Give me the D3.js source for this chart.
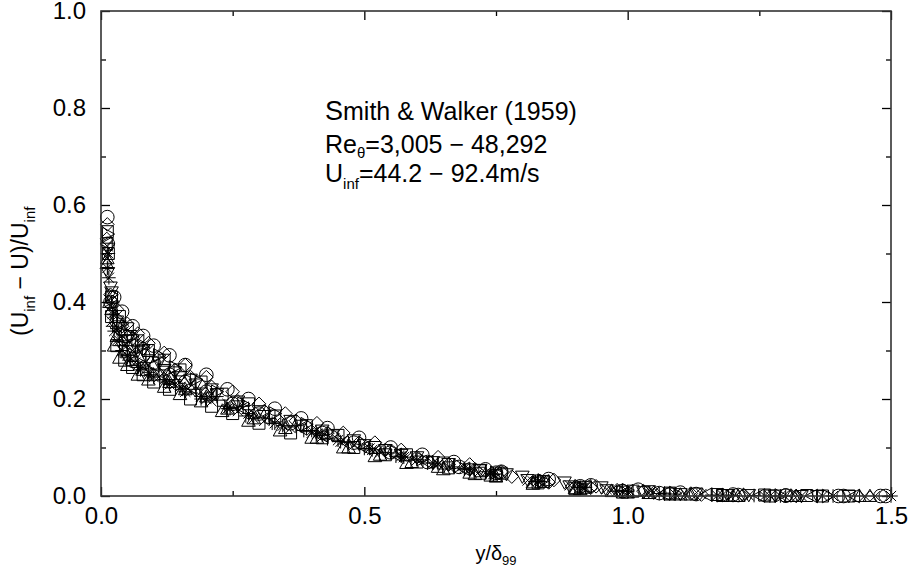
<!DOCTYPE html>
<html>
<head>
<meta charset="utf-8">
<script src="https://cdn.jsdelivr.net/npm/d3@7"></script>
<style>
  body { margin: 0; background: #fff; }
  text { font-family: "Liberation Sans", Arial, sans-serif; fill: #000; }
</style>
</head>
<body>
<div id="chart"></div>
<script>
// data: y/delta99 vs (Uinf - U)/Uinf, one array per profile
var profCircle = [[0.012,0.575],[0.018,0.40],[0.03,0.36],[0.045,0.33],[0.06,0.31],[0.08,0.29],[0.10,0.275],[0.13,0.25],[0.16,0.235],[0.20,0.215],[0.25,0.19],[0.30,0.17],[0.36,0.15],[0.42,0.13],[0.48,0.11],[0.55,0.09],[0.62,0.07],[0.68,0.06],[0.75,0.048],[0.83,0.03],[0.91,0.02],[0.99,0.01],[1.06,0.006],[1.13,0.004],[1.21,0.002],[1.30,0.001],[1.40,0.0],[1.48,0.0]];
var profCircle2 = [[0.013,0.52],[0.025,0.41],[0.04,0.38],[0.06,0.35],[0.08,0.33],[0.10,0.31],[0.13,0.29],[0.16,0.27],[0.20,0.25],[0.24,0.22],[0.28,0.20],[0.33,0.18],[0.38,0.16],[0.43,0.14],[0.49,0.12],[0.55,0.10],[0.61,0.085],[0.67,0.07],[0.73,0.055],[0.76,0.05],[0.85,0.035],[0.93,0.022],[1.02,0.013],[1.10,0.007],[1.20,0.003],[1.30,0.001],[1.41,0.0],[1.49,0.0]];
var profSquare = [[0.012,0.545],[0.02,0.41],[0.035,0.37],[0.05,0.345],[0.07,0.32],[0.09,0.30],[0.12,0.28],[0.15,0.26],[0.19,0.235],[0.23,0.21],[0.28,0.19],[0.33,0.165],[0.39,0.145],[0.45,0.125],[0.52,0.10],[0.58,0.085],[0.65,0.068],[0.72,0.052],[0.76,0.047],[0.84,0.03],[0.92,0.018],[1.01,0.01],[1.08,0.006],[1.17,0.003],[1.26,0.002],[1.34,0.001],[1.42,0.0]];
var profSquare2 = [[0.014,0.50],[0.02,0.37],[0.03,0.31],[0.045,0.28],[0.06,0.265],[0.08,0.25],[0.10,0.235],[0.13,0.22],[0.17,0.20],[0.21,0.185],[0.25,0.17],[0.30,0.15],[0.36,0.13],[0.42,0.12],[0.48,0.10],[0.54,0.085],[0.60,0.07],[0.66,0.058],[0.72,0.047],[0.75,0.042],[0.83,0.027],[0.90,0.015],[0.99,0.008],[1.08,0.004],[1.18,0.001],[1.27,0.0],[1.37,0.0]];
var profDiamond = [[0.011,0.53],[0.022,0.40],[0.04,0.35],[0.06,0.325],[0.08,0.305],[0.11,0.285],[0.14,0.26],[0.17,0.245],[0.21,0.225],[0.26,0.195],[0.31,0.175],[0.37,0.155],[0.43,0.13],[0.49,0.11],[0.54,0.095],[0.60,0.08],[0.66,0.065],[0.71,0.055],[0.78,0.04],[0.85,0.028],[0.93,0.017],[0.98,0.012],[1.05,0.007],[1.14,0.003],[1.22,0.002],[1.31,0.001]];
var profDiamond2 = [[0.012,0.56],[0.018,0.415],[0.03,0.385],[0.05,0.355],[0.07,0.335],[0.09,0.315],[0.12,0.295],[0.16,0.27],[0.20,0.245],[0.25,0.215],[0.30,0.19],[0.35,0.17],[0.41,0.15],[0.46,0.13],[0.52,0.11],[0.57,0.095],[0.64,0.08],[0.70,0.065],[0.76,0.05],[0.86,0.033],[0.94,0.02],[1.03,0.01],[1.12,0.005],[1.22,0.002],[1.32,0.0]];
var profTriUp = [[0.012,0.49],[0.02,0.385],[0.03,0.33],[0.045,0.30],[0.06,0.28],[0.08,0.26],[0.10,0.25],[0.13,0.235],[0.16,0.22],[0.20,0.205],[0.24,0.18],[0.29,0.16],[0.35,0.14],[0.41,0.12],[0.47,0.10],[0.53,0.085],[0.59,0.07],[0.64,0.06],[0.70,0.048],[0.74,0.042],[0.82,0.028],[0.90,0.016],[0.97,0.01],[1.04,0.006],[1.12,0.003],[1.20,0.0],[1.32,0.0],[1.44,0.0]];
var profTriUp2 = [[0.011,0.48],[0.016,0.40],[0.025,0.31],[0.035,0.285],[0.05,0.27],[0.07,0.25],[0.09,0.24],[0.12,0.225],[0.15,0.21],[0.19,0.195],[0.23,0.175],[0.28,0.155],[0.34,0.135],[0.40,0.12],[0.46,0.10],[0.52,0.082],[0.58,0.068],[0.65,0.055],[0.71,0.045],[0.75,0.04],[0.82,0.025],[0.91,0.014],[1.00,0.007],[1.10,0.003],[1.21,0.0],[1.31,0.0],[1.46,0.0]];
var profTriDown = [[0.013,0.51],[0.018,0.43],[0.03,0.36],[0.05,0.32],[0.07,0.30],[0.09,0.28],[0.12,0.26],[0.15,0.245],[0.18,0.23],[0.22,0.21],[0.26,0.185],[0.31,0.165],[0.38,0.145],[0.44,0.125],[0.50,0.105],[0.57,0.085],[0.63,0.07],[0.70,0.055],[0.77,0.045],[0.81,0.033],[0.89,0.02],[0.96,0.012],[1.03,0.008],[1.10,0.004],[1.19,0.002],[1.28,0.001],[1.36,0.0]];
var profTriDown2 = [[0.013,0.46],[0.02,0.42],[0.035,0.35],[0.055,0.33],[0.08,0.30],[0.11,0.275],[0.14,0.255],[0.17,0.24],[0.21,0.22],[0.26,0.195],[0.30,0.175],[0.36,0.155],[0.42,0.135],[0.48,0.115],[0.54,0.095],[0.60,0.08],[0.66,0.066],[0.72,0.054],[0.80,0.04],[0.88,0.028],[0.95,0.018],[1.04,0.01],[1.13,0.005],[1.23,0.002],[1.33,0.0],[1.42,0.0]];
var profTriLeft = [[0.011,0.52],[0.02,0.39],[0.035,0.34],[0.055,0.31],[0.075,0.29],[0.10,0.27],[0.13,0.245],[0.17,0.225],[0.21,0.21],[0.27,0.18],[0.32,0.165],[0.38,0.14],[0.42,0.125],[0.50,0.10],[0.56,0.085],[0.62,0.07],[0.69,0.056],[0.75,0.046],[0.84,0.03],[0.92,0.02],[1.00,0.01],[1.07,0.005],[1.15,0.003],[1.25,0.001],[1.35,0.0],[1.43,0.0]];
var profTriRight = [[0.013,0.54],[0.02,0.415],[0.04,0.355],[0.06,0.33],[0.08,0.31],[0.11,0.29],[0.14,0.265],[0.18,0.24],[0.22,0.215],[0.27,0.19],[0.33,0.17],[0.39,0.148],[0.44,0.128],[0.50,0.108],[0.56,0.09],[0.61,0.076],[0.68,0.062],[0.75,0.048],[0.84,0.032],[0.91,0.02],[1.00,0.012],[1.09,0.006],[1.19,0.002],[1.29,0.001],[1.38,0.0]];
var profPlus = [[0.012,0.50],[0.02,0.40],[0.03,0.345],[0.05,0.31],[0.065,0.295],[0.085,0.275],[0.11,0.26],[0.14,0.24],[0.18,0.22],[0.22,0.205],[0.27,0.185],[0.32,0.16],[0.37,0.145],[0.42,0.125],[0.47,0.11],[0.54,0.09],[0.60,0.075],[0.67,0.06],[0.73,0.05],[0.83,0.03],[0.91,0.018],[0.99,0.011],[1.07,0.006],[1.16,0.002],[1.24,0.001]];
var profPlus2 = [[0.013,0.47],[0.022,0.35],[0.035,0.31],[0.05,0.285],[0.07,0.265],[0.095,0.25],[0.125,0.235],[0.155,0.22],[0.19,0.20],[0.235,0.185],[0.275,0.165],[0.325,0.15],[0.385,0.135],[0.43,0.118],[0.50,0.098],[0.56,0.082],[0.62,0.068],[0.69,0.055],[0.745,0.045],[0.825,0.03],[0.905,0.018],[0.985,0.01],[1.07,0.004],[1.20,0.001],[1.30,0.0]];
var profCross = [[0.012,0.515],[0.025,0.385],[0.04,0.33],[0.06,0.30],[0.09,0.27],[0.12,0.255],[0.15,0.235],[0.19,0.215],[0.24,0.19],[0.29,0.17],[0.34,0.15],[0.40,0.13],[0.46,0.115],[0.52,0.095],[0.58,0.08],[0.64,0.065],[0.71,0.052],[0.82,0.03],[0.90,0.02],[0.97,0.012],[1.04,0.006],[1.11,0.004],[1.23,0.001],[1.33,0.0],[1.45,0.0]];
var profCross2 = [[0.012,0.49],[0.02,0.36],[0.03,0.32],[0.045,0.295],[0.065,0.275],[0.085,0.26],[0.11,0.245],[0.14,0.23],[0.17,0.215],[0.21,0.195],[0.26,0.175],[0.31,0.155],[0.36,0.14],[0.42,0.122],[0.48,0.105],[0.53,0.09],[0.60,0.074],[0.66,0.06],[0.73,0.048],[0.81,0.032],[0.89,0.022],[0.96,0.014],[1.05,0.008],[1.14,0.004],[1.26,0.0],[1.37,0.0],[1.47,0.0]];
var profStar = [[0.012,0.47],[0.015,0.45],[0.022,0.375],[0.035,0.32],[0.05,0.29],[0.07,0.27],[0.09,0.255],[0.12,0.24],[0.15,0.225],[0.19,0.205],[0.24,0.18],[0.28,0.17],[0.33,0.15],[0.40,0.135],[0.45,0.115],[0.51,0.098],[0.57,0.082],[0.63,0.068],[0.69,0.057],[0.74,0.047],[0.83,0.031],[0.92,0.018],[0.98,0.01],[1.06,0.005],[1.18,0.002],[1.29,0.0],[1.39,0.0],[1.50,0.0]];
var profStar2 = [[0.014,0.50],[0.025,0.34],[0.04,0.30],[0.055,0.28],[0.075,0.26],[0.10,0.245],[0.13,0.23],[0.16,0.215],[0.20,0.20],[0.245,0.18],[0.29,0.16],[0.345,0.145],[0.41,0.128],[0.455,0.112],[0.515,0.095],[0.575,0.08],[0.64,0.066],[0.70,0.054],[0.745,0.045],[0.835,0.03],[0.915,0.017],[1.00,0.009],[1.09,0.004],[1.17,0.001],[1.27,0.0]];

var profiles = [profCircle, profCircle2, profSquare, profSquare2, profDiamond, profDiamond2, profTriUp, profTriUp2,
                profTriDown, profTriDown2, profTriLeft, profTriRight, profPlus, profPlus2, profCross, profCross2,
                profStar, profStar2];
var symbols = ["circle", "circle", "square", "square", "diamond", "diamond", "triup", "triup",
               "tridown", "tridown", "trileft", "triright", "plus", "plus", "cross", "cross",
               "star", "star"];

var xMajor = [0, 0.5, 1.0, 1.5];
var xMinor = [0.25, 0.75, 1.25];
var yMajor = [0, 0.2, 0.4, 0.6, 0.8, 1.0];
var yMinor = [0.1, 0.3, 0.5, 0.7, 0.9];

var W = 912, H = 575;
var m = {left: 101, right: 21, top: 11, bottom: 79};
var w = W - m.left - m.right, h = H - m.top - m.bottom;

var svg = d3.select("#chart").append("svg")
    .attr("width", W).attr("height", H);
var g = svg.append("g").attr("transform", "translate(" + m.left + "," + m.top + ")");

var x = d3.scaleLinear().domain([0, 1.5]).range([0, w]);
var y = d3.scaleLinear().domain([0, 1.0]).range([h, 0]);

// marker shapes, half-size s
function markerPath(type, s) {
    var p = d3.path();
    if (type == "circle") { p.moveTo(s, 0); p.arc(0, 0, s, 0, 2 * Math.PI); }
    else if (type == "square") { var a = s * 0.88; p.rect(-a, -a, 2 * a, 2 * a); }
    else if (type == "diamond") { p.moveTo(0, -s); p.lineTo(s, 0); p.lineTo(0, s); p.lineTo(-s, 0); p.closePath(); }
    else if (type == "triup") { p.moveTo(0, -s); p.lineTo(s, s * 0.8); p.lineTo(-s, s * 0.8); p.closePath(); }
    else if (type == "tridown") { p.moveTo(0, s); p.lineTo(s, -s * 0.8); p.lineTo(-s, -s * 0.8); p.closePath(); }
    else if (type == "trileft") { p.moveTo(-s, 0); p.lineTo(s * 0.8, -s); p.lineTo(s * 0.8, s); p.closePath(); }
    else if (type == "triright") { p.moveTo(s, 0); p.lineTo(-s * 0.8, -s); p.lineTo(-s * 0.8, s); p.closePath(); }
    else if (type == "plus") { p.moveTo(-s, 0); p.lineTo(s, 0); p.moveTo(0, -s); p.lineTo(0, s); }
    else if (type == "cross") { var c = s * 0.75; p.moveTo(-c, -c); p.lineTo(c, c); p.moveTo(-c, c); p.lineTo(c, -c); }
    else if (type == "star") {
        var c2 = s * 0.75;
        p.moveTo(-s, 0); p.lineTo(s, 0); p.moveTo(0, -s); p.lineTo(0, s);
        p.moveTo(-c2, -c2); p.lineTo(c2, c2); p.moveTo(-c2, c2); p.lineTo(c2, -c2);
    }
    return p.toString();
}

// points
var pts = g.append("g").attr("class", "points");
profiles.forEach(function(prof, i) {
    pts.append("g").selectAll("path")
        .data(prof)
        .enter()
        .append("path")
        .attr("transform", function(d) { return "translate(" + x(d[0]) + "," + y(d[1]) + ")"; })
        .attr("d", markerPath(symbols[i], 6.8))
        .attr("fill", "none")
        .attr("stroke", "#000")
        .attr("stroke-width", 1);
});

// axes: inward ticks on all four sides
function styleAxis(sel) {
    sel.selectAll(".domain").remove();
    sel.selectAll(".tick line").attr("stroke", "#000").attr("stroke-width", 1.3);
    sel.selectAll("text").style("font-size", "24px").attr("fill", "#000");
}
var fmt = d3.format(".1f");

g.append("g").attr("transform", "translate(0," + h + ")")
    .call(d3.axisBottom(x).tickValues(xMajor).tickFormat(fmt).tickSizeInner(-9).tickSizeOuter(0).tickPadding(11))
    .call(styleAxis);
g.append("g").attr("transform", "translate(0," + h + ")")
    .call(d3.axisBottom(x).tickValues(xMinor).tickFormat("").tickSizeInner(-5).tickSizeOuter(0))
    .call(styleAxis);
g.append("g")
    .call(d3.axisTop(x).tickValues(xMajor).tickFormat("").tickSizeInner(-9).tickSizeOuter(0))
    .call(styleAxis);
g.append("g")
    .call(d3.axisTop(x).tickValues(xMinor).tickFormat("").tickSizeInner(-5).tickSizeOuter(0))
    .call(styleAxis);

g.append("g")
    .call(d3.axisLeft(y).tickValues(yMajor).tickFormat(fmt).tickSizeInner(-9).tickSizeOuter(0).tickPadding(15))
    .call(styleAxis);
g.append("g")
    .call(d3.axisLeft(y).tickValues(yMinor).tickFormat("").tickSizeInner(-5).tickSizeOuter(0))
    .call(styleAxis);
g.append("g").attr("transform", "translate(" + w + ",0)")
    .call(d3.axisRight(y).tickValues(yMajor).tickFormat("").tickSizeInner(-9).tickSizeOuter(0))
    .call(styleAxis);
g.append("g").attr("transform", "translate(" + w + ",0)")
    .call(d3.axisRight(y).tickValues(yMinor).tickFormat("").tickSizeInner(-5).tickSizeOuter(0))
    .call(styleAxis);

// frame
g.append("rect")
    .attr("x", 0).attr("y", 0).attr("width", w).attr("height", h)
    .attr("fill", "none").attr("stroke", "#333").attr("stroke-width", 1.6);

// axis titles
var xt = svg.append("text")
    .attr("x", m.left + w / 2).attr("y", 560)
    .attr("text-anchor", "middle")
    .style("font-size", "20px");
xt.append("tspan").text("y/δ");
xt.append("tspan").attr("dy", 5).style("font-size", "13px").text("99");

var yt = svg.append("text")
    .attr("transform", "translate(28,336) rotate(-90)")
    .attr("text-anchor", "start")
    .style("font-size", "23px");
yt.append("tspan").text("(U");
yt.append("tspan").attr("dy", 7).style("font-size", "15px").text("inf");
yt.append("tspan").attr("dy", -7).text(" − U)/U");
yt.append("tspan").attr("dy", 7).style("font-size", "15px").text("inf");

// annotation
var t1 = svg.append("text").attr("x", 325).attr("y", 120).style("font-size", "25px");
t1.append("tspan").style("font-size", "27px").text("S");
t1.append("tspan").text("mith & Walker (1959)");

var t2 = svg.append("text").attr("x", 325).attr("y", 153).style("font-size", "25px");
t2.append("tspan").text("Re");
t2.append("tspan").attr("dy", 5).style("font-size", "15px").text("θ");
t2.append("tspan").attr("dy", -5).text("=3,005 − 48,292");

var t3 = svg.append("text").attr("x", 325).attr("y", 182).style("font-size", "25px");
t3.append("tspan").text("U");
t3.append("tspan").attr("dy", 7).style("font-size", "15px").text("inf");
t3.append("tspan").attr("dy", -7).text("=44.2 − 92.4m/s");
</script>
</body>
</html>
